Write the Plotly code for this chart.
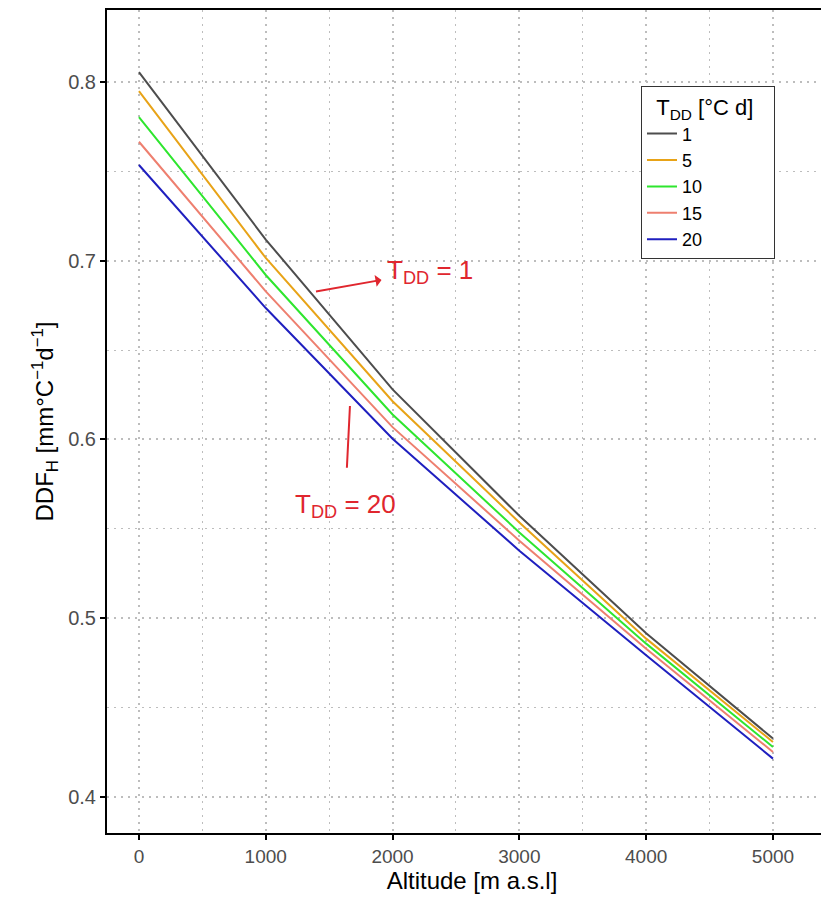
import plotly.graph_objects as go

altitude = [0, 1000, 2000, 3000, 4000, 5000]
tdd_labels = ["1", "5", "10", "15", "20"]
ddf_1 = [0.8055, 0.7118, 0.6280, 0.5573, 0.4916, 0.4327]
ddf_5 = [0.7948, 0.7015, 0.6214, 0.5536, 0.4886, 0.4308]
ddf_10 = [0.7803, 0.6920, 0.6140, 0.5480, 0.4858, 0.4280]
ddf_15 = [0.7665, 0.6828, 0.6069, 0.5434, 0.4830, 0.4252]
ddf_20 = [0.7535, 0.6735, 0.6004, 0.5378, 0.4793, 0.4215]
series = [ddf_1, ddf_5, ddf_10, ddf_15, ddf_20]
colors = ["#4D4D4D", "#E8A317", "#2EE62E", "#EE7F6F", "#1F1FBF"]

x_ticks = [0, 1000, 2000, 3000, 4000, 5000]
y_ticks = [0.4, 0.5, 0.6, 0.7, 0.8]

fig = go.Figure()
for lab, vals, col in zip(tdd_labels, series, colors):
    fig.add_trace(go.Scatter(x=altitude, y=vals, mode="lines", name=lab,
                             line=dict(color=col, width=2)))

grid = "#BDBDBD"
gdash = "2px,5px"
fig.update_layout(
    width=829, height=899,
    margin=dict(l=99, r=0, t=0, b=74),
    paper_bgcolor="white", plot_bgcolor="white",
    font=dict(family="Liberation Sans, Arial, sans-serif", color="black"),
    legend=dict(
        x=0.7315, y=0.9079, xanchor="left", yanchor="top",
        bgcolor="white", bordercolor="#333333", borderwidth=1,
        font=dict(size=18, color="black"),
        title=dict(text="&nbsp;&nbsp;T<sub>DD</sub> [°C d]&nbsp;&nbsp;&nbsp;",
                   font=dict(size=22, color="black")),
    ),
    annotations=[
        dict(x=1396, y=0.6828, ax=2295, ay=0.694, xref="x", yref="y", axref="x", ayref="y",
             text="T<sub>DD</sub> = 1", showarrow=True, arrowside="start", arrowhead=2,
             arrowcolor="#E0262E", arrowwidth=2, standoff=0, startstandoff=4,
             font=dict(size=26, color="#E0262E")),
        dict(x=1664, y=0.6187, ax=1625, ay=0.5629, xref="x", yref="y", axref="x", ayref="y",
             text="T<sub>DD</sub> = 20", showarrow=True, arrowhead=0,
             arrowcolor="#E0262E", arrowwidth=2, startstandoff=20,
             font=dict(size=26, color="#E0262E")),
    ],
)
fig.update_xaxes(
    range=[-252, 5505], tickvals=x_ticks, ticks="outside", ticklen=5, tickwidth=1.5,
    tickcolor="black", showline=True, linecolor="black", linewidth=2, mirror=True,
    showgrid=True, gridcolor=grid, griddash=gdash, gridwidth=1.5, zeroline=False,
    minor=dict(dtick=500, tick0=0, showgrid=True, gridcolor=grid, griddash=gdash, gridwidth=1.2),
    tickfont=dict(size=19, color="#4D4D4D"),
    title=dict(text="Altitude [m a.s.l]", font=dict(size=24, color="black"), standoff=6),
)
fig.update_yaxes(
    range=[0.3799, 0.8402], tickvals=y_ticks, ticks="outside", ticklen=5, tickwidth=1.5,
    tickcolor="black", showline=True, linecolor="black", linewidth=2,
    showgrid=True, gridcolor=grid, griddash=gdash, gridwidth=1.5, zeroline=False,
    minor=dict(dtick=0.05, tick0=0.4, showgrid=True, gridcolor=grid, griddash=gdash, gridwidth=1.2),
    tickfont=dict(size=20, color="#4D4D4D"),
    title=dict(text="DDF<sub>H</sub> [mm°C<sup>−1</sup>d<sup>−1</sup>]",
               font=dict(size=24, color="black"), standoff=8),
)

fig.write_html("out.html")
